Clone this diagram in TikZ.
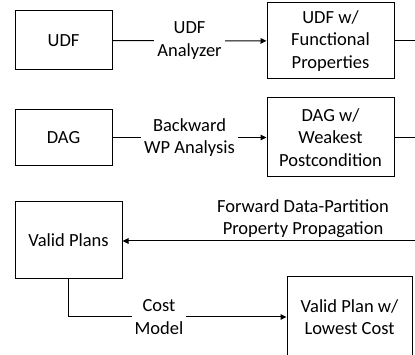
\documentclass[tikz,border=0pt]{standalone}
\usepackage{fontspec}
\setmainfont{Carlito}
\usetikzlibrary{arrows.meta}
\begin{document}
\begin{tikzpicture}[x=1pt,y=-1pt,
  txt/.style={font=\fontsize{18.5}{22.5}\selectfont, align=center},
  box/.style={txt, draw, line width=1pt, inner sep=0pt},
  lbl/.style={txt, fill=white, inner sep=3pt},
  conn/.style={line width=1pt},
  arr/.style={conn, -{Triangle[length=6pt,width=5.5pt]}}]
\useasboundingbox (0,0) rectangle (415,355);
% row 1
\node[box, minimum width=97pt, minimum height=59pt] (udf) at (63.5,40.5) {UDF};
\node[box, minimum width=127pt, minimum height=76pt] (udff) at (330.5,41) {UDF w/\\Functional\\Properties};
\coordinate (r1) at (420,41);
% row 2
\node[box, minimum width=97pt, minimum height=56pt] (dag) at (63.5,137.5) {DAG};
\node[box, minimum width=127pt, minimum height=79pt] (dagw) at (330.5,137.5) {DAG w/\\Weakest\\Postcondition};
\coordinate (r2) at (420,137.5);
% row 3
\node[box, minimum width=107pt, minimum height=77pt] (vp) at (68.5,240.5) {Valid Plans};
\coordinate (r3) at (420,241);
\node[box, minimum width=125pt, minimum height=80pt] (vpl) at (349.5,317) {Valid Plan w/\\Lowest Cost};
% connectors
\draw[arr] (udf) -- node[lbl] {UDF\\Analyzer} (udff);
\draw[conn] (udff.east) -- (r1);
\draw[arr] (dag) -- node[lbl] {Backward\\WP Analysis} (dagw);
\draw[conn] (dagw.east) -- (r2);
\draw[arr] (r3) -- (vp.east |- r3);
\node[txt, inner sep=0pt] (fwd) at (303,218.5) {Forward Data-Partition\\Property Propagation};
\draw[arr] (vp.south) |- (vpl.west);
\node[lbl] (cost) at (159,317) {Cost\\Model};
\end{tikzpicture}
\end{document}
